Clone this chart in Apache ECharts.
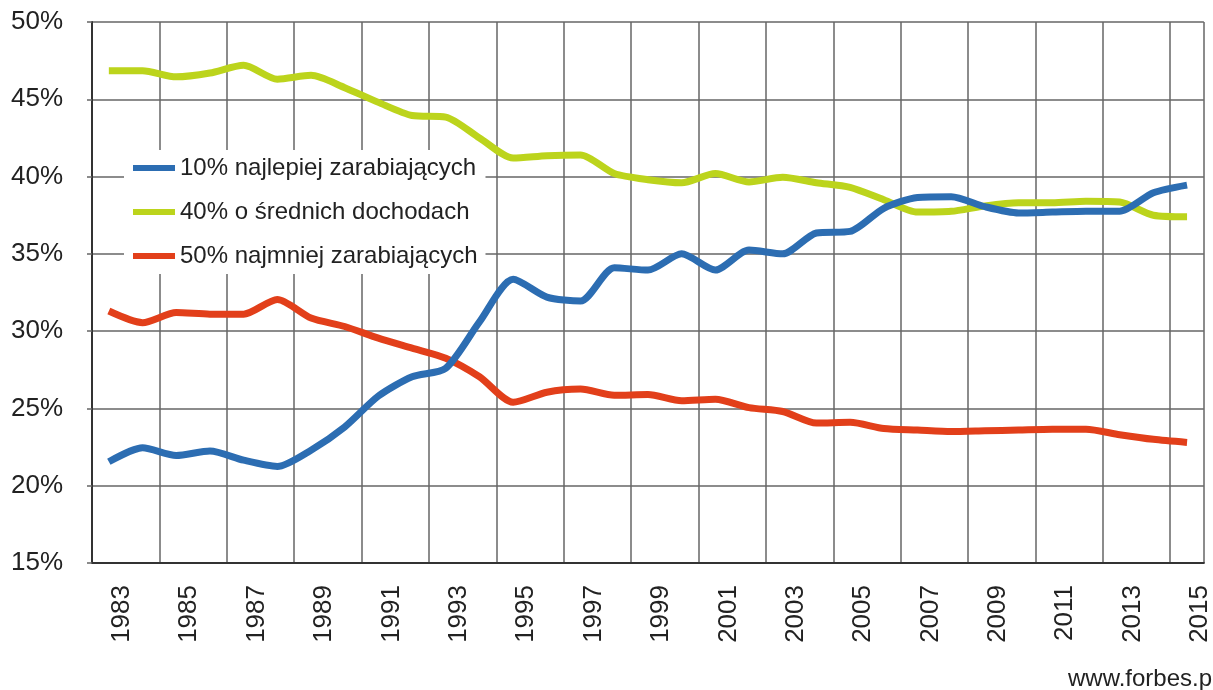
<!DOCTYPE html>
<html>
<head>
<meta charset="utf-8">
<script src="https://cdn.jsdelivr.net/npm/echarts@6/dist/echarts.min.js"></script>
<style>
html, body { margin: 0; padding: 0; background: #fff; }
#chart { width: 1213px; height: 690px; }
</style>
</head>
<body>
<div id="chart"></div>
<script>
// lata
var years = ['1983','1984','1985','1986','1987','1988','1989','1990','1991','1992','1993',
  '1994','1995','1996','1997','1998','1999','2000','2001','2002','2003','2004','2005',
  '2006','2007','2008','2009','2010','2011','2012','2013','2014','2015']

// udział w dochodzie (%)
var top10 = [21.55,22.45,21.95,22.25,21.65,21.25,22.3,23.8,25.8,27.05,27.6,
  30.6,33.35,32.2,31.95,34.1,33.95,35.0,33.95,35.25,35.0,36.35,36.45,
  37.95,38.65,38.7,38.05,37.65,37.7,37.75,37.75,38.95,39.45]
var middle40 = [46.85,46.85,46.45,46.7,47.2,46.3,46.55,45.75,44.8,43.95,43.85,
  42.5,41.2,41.35,41.4,40.2,39.8,39.6,40.2,39.65,39.95,39.6,39.3,
  38.5,37.7,37.75,38.1,38.3,38.3,38.4,38.35,37.5,37.4]
var bottom50 = [31.3,30.55,31.2,31.1,31.1,32.05,30.85,30.3,29.55,28.9,28.25,
  27.05,25.4,26.05,26.25,25.85,25.9,25.5,25.6,25.05,24.8,24.05,24.1,
  23.7,23.6,23.5,23.55,23.6,23.65,23.65,23.3,23.0,22.8]

var names = ['10% najlepiej zarabiających', '40% o średnich dochodach', '50% najmniej zarabiających']
var colors = ['#2c6db2', '#bcd41c', '#e23f1a']

var myChart = echarts.init(document.getElementById('chart'))
var gridColor = '#666'

var option = {
  backgroundColor: '#fff',
  animation: false,
  textStyle: { fontFamily: 'Liberation Sans, Arial, sans-serif' },
  grid: { left: 92, right: 6, top: 22, bottom: 127 },
  legend: {
    orient: 'vertical',
    left: 124,
    top: 150,
    padding: [6, 8, 6, 9],
    backgroundColor: '#fff',
    icon: 'rect',
    itemWidth: 42,
    itemHeight: 6,
    itemGap: 20,
    textStyle: { fontSize: 24, color: '#222' },
    data: names
  },
  xAxis: {
    type: 'category',
    boundaryGap: true,
    data: years,
    axisLine: { lineStyle: { color: '#333', width: 2 } },
    axisTick: { interval: 1, length: 12, lineStyle: { color: gridColor, width: 1.5 } },
    axisLabel: { interval: 1, rotate: 90, fontSize: 26, color: '#222', margin: 22, verticalAlign: 'top' },
    splitLine: { show: true, interval: 1, lineStyle: { color: gridColor, width: 1.5 } }
  },
  yAxis: {
    type: 'value',
    min: 15,
    max: 50,
    interval: 5,
    axisLine: { show: true, lineStyle: { color: '#333', width: 2 } },
    axisTick: { show: true, length: 5, lineStyle: { color: gridColor, width: 1.5 } },
    axisLabel: { formatter: '{value}%', fontSize: 26, color: '#222', margin: 29 },
    splitLine: { lineStyle: { color: gridColor, width: 1.5 } }
  },
  graphic: [{
    type: 'text',
    left: 1068,
    top: 667,
    style: { text: 'www.forbes.p', fontSize: 24, fill: '#222', fontFamily: 'Liberation Sans, Arial, sans-serif' }
  }],
  series: [
    { name: names[0], type: 'line', data: top10, smooth: 0.25, symbol: 'none',
      lineStyle: { width: 7, color: colors[0] }, itemStyle: { color: colors[0] }, z: 4 },
    { name: names[1], type: 'line', data: middle40, smooth: 0.25, symbol: 'none',
      lineStyle: { width: 7, color: colors[1] }, itemStyle: { color: colors[1] }, z: 3 },
    { name: names[2], type: 'line', data: bottom50, smooth: 0.25, symbol: 'none',
      lineStyle: { width: 7, color: colors[2] }, itemStyle: { color: colors[2] }, z: 3 }
  ]
}
myChart.setOption(option)
</script>
</body>
</html>
